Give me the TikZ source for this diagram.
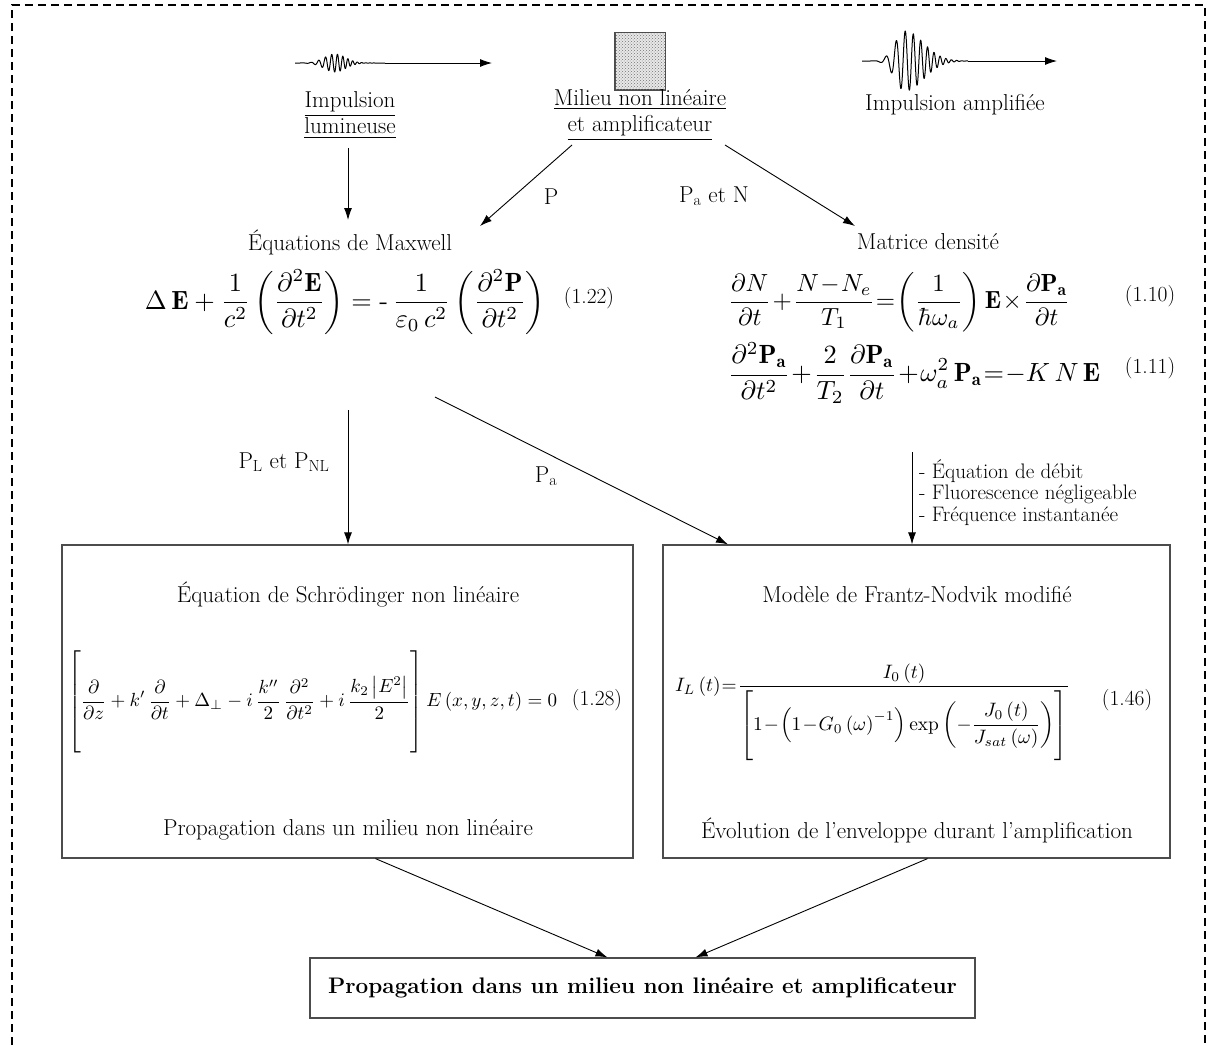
\RequirePackage{fix-cm}
\documentclass[tikz,border=0pt]{standalone}
\usepackage{fontspec}
\usepackage{amsmath}
\usepackage{graphicx}
\usetikzlibrary{arrows.meta,patterns}
\begin{document}
\begin{tikzpicture}[x=1pt,y=-1pt,
  txt/.style={font=\fontsize{23}{26}\selectfont, inner sep=0pt, align=center},
  smalltxt/.style={font=\fontsize{21}{21.5}\selectfont, inner sep=0pt, align=left},
  eqlabel/.style={font=\fontsize{21.5}{24}\selectfont, inner sep=0pt},
  eqn/.style={inner sep=0pt},
  con/.style={-{Latex[length=12pt,width=8pt]}, line width=0.9pt},
  wave/.style={line width=1pt, line join=round},
  bigbox/.style={draw=black!70, line width=1.2pt, minimum height=313pt},
  border/.style={line width=2pt, dash pattern=on 8pt off 5pt}
]
\useasboundingbox (0,0) rectangle (1214,1045);

% dashed frame (open at bottom)
\draw[border] (12,1045) -- (12,5) -- (1205,5) -- (1205,1045);

% ---------------- top row ----------------
% input pulse
\draw[wave] plot[domain=295:385, samples=400]
  (\x, {63 - 9*exp(-((\x-335)/15)^2)*sin(36*(\x-300)+0.386*(\x-300)^2)});
\coordinate (p1s) at (385,63);
\coordinate (p1e) at (492,63);
\draw[con] (p1s) -- (p1e);

% medium
\node[draw=black!70, line width=0.8pt, fill=gray!18, minimum width=50pt, minimum height=57pt, inner sep=0pt] (medium) at (640,61) {};
\fill[pattern=crosshatch dots, pattern color=black!55] (medium.south west) rectangle (medium.north east);
\draw[black!70, line width=0.8pt] (medium.south west) rectangle (medium.north east);

% amplified pulse
\draw[wave] plot[domain=862:968, samples=600]
  (\x, {61 + 30*exp(-((\x-905)/((\x<905)?14:26))^2)*sin(20*(\x-862)+0.26*(\x-862)^2)});
\coordinate (p2s) at (968,61);
\coordinate (p2e) at (1057,61);
\draw[con] (p2s) -- (p2e);

\node[txt] (imp) at (350,115) {\underline{Impulsion}\\\underline{lumineuse}};
\node[txt] (mil) at (640,115) {\underline{Milieu non linéaire}\\\underline{et amplificateur}};
\node[txt, anchor=base] (ampl) at (955,110) {Impulsion amplifiée};

% ---------------- second level ----------------
\node[txt] (maxw) at (350,242) {Équations de Maxwell};
\node[txt] (dens) at (928,242) {Matrice densité};

\coordinate (impArr) at (348,148);
\coordinate (maxArr) at (348,220);
\draw[con] (impArr) -- (maxArr);

\coordinate (milL) at (572,145);
\coordinate (maxR) at (480,226);
\draw[con] (milL) -- (maxR);
\node[txt] (lP) at (551,197) {P};

\coordinate (milR) at (725,145);
\coordinate (densL) at (855,226);
\draw[con] (milR) -- (densL);
\node[txt] (lPaN) at (714,196) {P\textsubscript{a} et N};

% Maxwell equation
\node[eqn] (eqmax) at (345,302) {\resizebox{400pt}{!}{$\displaystyle
  \Delta\,\mathbf{E}+\frac{1}{c^{2}}\left(\frac{\partial^{2}\mathbf{E}}{\partial t^{2}}\right)=\text{-}\,\frac{1}{\varepsilon_{0}\,c^{2}}\left(\frac{\partial^{2}\mathbf{P}}{\partial t^{2}}\right)$}};
\node[eqlabel] (l122) at (589,298) {(1.22)};

% density matrix equations
\node[eqn, anchor=west] (eq110) at (728,302) {\resizebox{342pt}{!}{$\displaystyle
  \medmuskip=1mu\thickmuskip=1mu
  \frac{\partial N}{\partial t}+\frac{N-N_{e}}{T_{1}}=\left(\frac{1}{\hbar\omega_{a}}\right)\mathbf{E}\times\frac{\partial\mathbf{P}_{\mathbf{a}}}{\partial t}$}};
\node[eqlabel] (l110) at (1150,296) {(1.10)};

\node[eqn, anchor=west] (eq111) at (728,373) {\resizebox{372pt}{!}{$\displaystyle
  \medmuskip=1mu\thickmuskip=1mu
  \frac{\partial^{2}\mathbf{P}_{\mathbf{a}}}{\partial t^{2}}+\frac{2}{T_{2}}\frac{\partial\mathbf{P}_{\mathbf{a}}}{\partial t}+\omega_{a}^{2}\,\mathbf{P}_{\mathbf{a}}=-K\,N\,\mathbf{E}$}};
\node[eqlabel] (l111) at (1150,368) {(1.11)};

% ---------------- third level connectors ----------------
\coordinate (maxB) at (348,410);
\coordinate (eqPa) at (435,397);
\coordinate (densB) at (912,452);

\node[txt] (lPL) at (284,462) {P\textsubscript{L} et P\textsubscript{NL}};
\node[txt] (lPa) at (546,476) {P\textsubscript{a}};
\node[smalltxt, anchor=north west] (cond) at (919,459) {- Équation de débit\\- Fluorescence négligeable\\- Fréquence instantanée};

% ---------------- boxes ----------------
\node[bigbox, minimum width=571pt] (schr) at (347.5,701.5) {};
\node[bigbox, minimum width=507pt] (fn) at (916.5,701.5) {};

\draw[con] (maxB) -- (maxB |- schr.north);
\draw[con] (eqPa) -- ([xshift=-188.5pt]fn.north);
\draw[con] (densB) -- (densB |- fn.north);

\node[txt] (schrT) at (348,595) {Équation de Schrödinger non linéaire};
\node[txt] (schrC) at (348,830) {Propagation dans un milieu non linéaire};
\node[eqn, anchor=west] (eq128) at (68,703) {\resizebox{489pt}{!}{$\displaystyle
  \left[\rule[-2.6em]{0pt}{5.6em}\frac{\partial}{\partial z}+k'\,\frac{\partial}{\partial t}+\Delta_{\perp}-i\,\frac{k''}{2}\,\frac{\partial^{2}}{\partial t^{2}}+i\,\frac{k_{2}\left|E^{2}\right|}{2}\right]E\left(x,y,z,t\right)=0$}};
\node[eqlabel] (l128) at (597,700) {(1.28)};

\node[txt] (fnT) at (917,595) {Modèle de Frantz-Nodvik modifié};
\node[txt] (fnC) at (917,830) {Évolution de l’enveloppe durant l’amplification};
\node[eqn, anchor=west] (eq146) at (675,712) {\resizebox{395pt}{!}{$\displaystyle
  \medmuskip=1mu\thickmuskip=1mu
  I_{L}\left(t\right)=\frac{I_{0}\left(t\right)}{\left[\rule[-1.3em]{0pt}{3.4em}1-\left(1-G_{0}\left(\omega\right)^{-1}\right)\exp\left(-\dfrac{J_{0}\left(t\right)}{J_{sat}\left(\omega\right)}\right)\right]}$}};
\node[eqlabel] (l146) at (1127,700) {(1.46)};

% ---------------- final box ----------------
\node[draw=black!70, line width=1.2pt, minimum width=665pt, minimum height=60pt,
      font=\fontsize{22.5}{26}\selectfont\bfseries, inner sep=0pt] (final) at (642.5,988)
      {Propagation dans un milieu non linéaire et amplificateur};

\draw[con] ([xshift=28pt]schr.south) -- ([xshift=-35pt]final.north);
\draw[con] ([xshift=11pt]fn.south) -- ([xshift=53pt]final.north);

\end{tikzpicture}
\end{document}
